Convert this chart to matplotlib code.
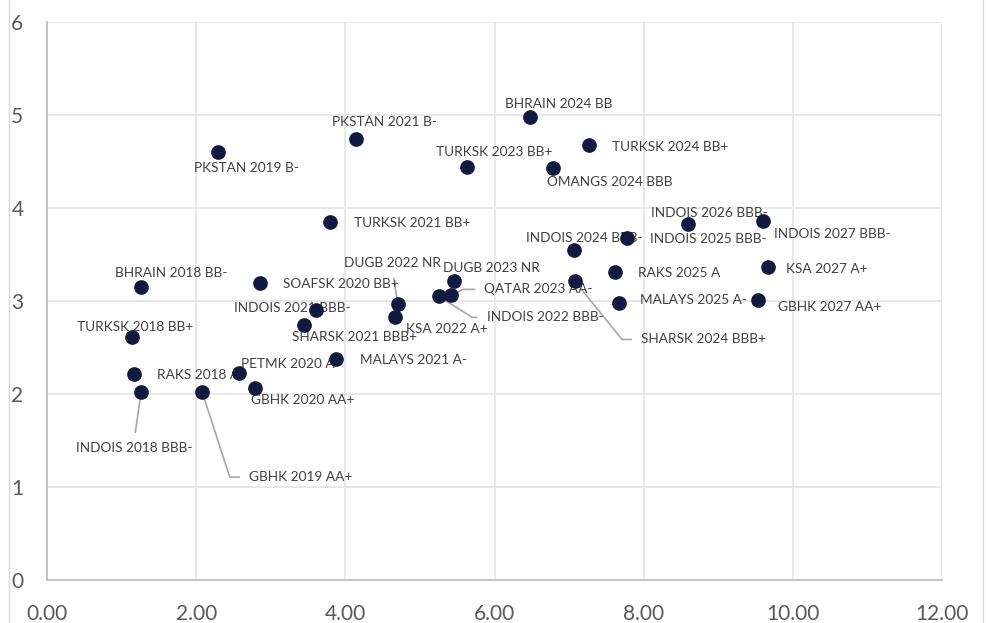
import matplotlib.pyplot as plt
from matplotlib.lines import Line2D

# bond name / rating, duration (x) and yield (y)
names = [
    'PKSTAN 2019 B-', 'PKSTAN 2021 B-', 'BHRAIN 2024 BB', 'TURKSK 2024 BB+',
    'TURKSK 2023 BB+', 'OMANGS 2024 BBB', 'TURKSK 2021 BB+', 'INDOIS 2026 BBB-',
    'INDOIS 2027 BBB-', 'INDOIS 2025 BBB-', 'INDOIS 2024 BBB-', 'RAKS 2025 A',
    'KSA 2027 A+', 'MALAYS 2025 A-', 'GBHK 2027 AA+', 'SHARSK 2024 BBB+',
    'QATAR 2023 AA-', 'DUGB 2023 NR', 'INDOIS 2022 BBB-', 'DUGB 2022 NR',
    'KSA 2022 A+', 'MALAYS 2021 A-', 'INDOIS 2021 BBB-', 'SHARSK 2021 BBB+',
    'SOAFSK 2020 BB+', 'BHRAIN 2018 BB-', 'TURKSK 2018 BB+', 'RAKS 2018 A',
    'INDOIS 2018 BBB-', 'GBHK 2019 AA+', 'PETMK 2020 A', 'GBHK 2020 AA+',
]
x_vals = [
    2.29, 4.14, 6.48, 7.26,
    5.63, 6.78, 3.80, 8.60,
    9.60, 7.77, 7.06, 7.61,
    9.66, 7.67, 9.53, 7.08,
    5.42, 5.45, 5.25, 4.70,
    4.66, 3.87, 3.61, 3.44,
    2.85, 1.26, 1.14, 1.17,
    1.26, 2.08, 2.57, 2.79,
]
y_vals = [
    4.60, 4.74, 4.98, 4.68,
    4.44, 4.43, 3.85, 3.83,
    3.86, 3.68, 3.55, 3.31,
    3.37, 2.98, 3.01, 3.21,
    3.06, 3.22, 3.05, 2.97,
    2.83, 2.38, 2.90, 2.74,
    3.19, 3.15, 2.61, 2.22,
    2.02, 2.02, 2.23, 2.06,
]

# label placement in pixels relative to the dot: (dx, dy up, ha)
label_pos = {
    'PKSTAN 2019 B-': (29, -16, 'center'),
    'PKSTAN 2021 B-': (29, 17, 'center'),
    'BHRAIN 2024 BB': (28, 13, 'center'),
    'TURKSK 2024 BB+': (23, -2, 'left'),
    'TURKSK 2023 BB+': (27, 15, 'center'),
    'OMANGS 2024 BBB': (57, -14, 'center'),
    'TURKSK 2021 BB+': (24, -1, 'left'),
    'INDOIS 2026 BBB-': (21, 11, 'center'),
    'INDOIS 2027 BBB-': (11, -13, 'left'),
    'INDOIS 2025 BBB-': (23, -1, 'left'),
    'INDOIS 2024 BBB-': (11, 12, 'center'),
    'RAKS 2025 A': (23, -1, 'left'),
    'KSA 2027 A+': (18, -2, 'left'),
    'MALAYS 2025 A-': (21, 3, 'left'),
    'GBHK 2027 AA+': (20, -7, 'left'),
    'SHARSK 2024 BBB+': (66, -58, 'left'),
    'QATAR 2023 AA-': (33, 6, 'left'),
    'DUGB 2023 NR': (38, 13, 'center'),
    'INDOIS 2022 BBB-': (48, -21, 'left'),
    'DUGB 2022 NR': (-5, 41, 'center'),
    'KSA 2022 A+': (52, -12, 'center'),
    'MALAYS 2021 A-': (24, -1, 'left'),
    'INDOIS 2021 BBB-': (-24, 2, 'center'),
    'SHARSK 2021 BBB+': (51, -12, 'center'),
    'SOAFSK 2020 BB+': (23, -1, 'left'),
    'BHRAIN 2018 BB-': (30, 14, 'center'),
    'TURKSK 2018 BB+': (3, 10, 'center'),
    'RAKS 2018 A': (23, -1, 'left'),
    'INDOIS 2018 BBB-': (-7, -56, 'center'),
    'GBHK 2019 AA+': (47, -85, 'left'),
    'PETMK 2020 A': (49, 9, 'center'),
    'GBHK 2020 AA+': (48, -12, 'center'),
}

# leader lines: relpos on the label, angle of the slanted part (None = straight)
leaders = {
    'SHARSK 2024 BBB+': ((0, 0.5), -51),
    'QATAR 2023 AA-': ((0, 0.5), 27),
    'INDOIS 2022 BBB-': ((0, 0.5), -32),
    'GBHK 2019 AA+': ((0, 0.5), -72),
    'DUGB 2022 NR': ((0.5, 0), None),
    'INDOIS 2018 BBB-': ((0.5, 1), None),
}

plt.rcParams['font.family'] = ['Lato', 'DejaVu Sans']

fig = plt.figure(figsize=(9.86, 6.23), dpi=100)
ax = fig.add_axes([0.0477, 0.069, 0.9077, 0.8958])

ax.scatter(x_vals, y_vals, s=112, color='#131a40', zorder=5, linewidths=0)

for name, xv, yv in zip(names, x_vals, y_vals):
    dx, dy, ha = label_pos[name]
    arrow = None
    if name in leaders:
        rel, ang = leaders[name]
        if ang is None:
            cs = 'arc3'
        else:
            cs = f'angle,angleA=0,angleB={ang},rad=0'
        arrow = dict(arrowstyle='-', color='#a6a6a6', lw=1.2, relpos=rel,
                     shrinkA=5, shrinkB=0, connectionstyle=cs)
    ax.annotate(name, (xv, yv), xytext=(dx, dy), textcoords='offset pixels',
                ha=ha, va='center', fontsize=9.8, color='#404040',
                arrowprops=arrow, zorder=4)

ax.set_xlim(0, 12)
ax.set_ylim(0, 6)
ax.set_xticks(range(0, 13, 2))
ax.set_xticklabels([f'{v:.2f}' for v in range(0, 13, 2)])
ax.set_yticks(range(0, 7))
ax.grid(True, color='#e6e6e6', lw=1.3)
ax.set_axisbelow(True)
for side in ['top', 'right']:
    ax.spines[side].set_visible(False)
for side in ['left', 'bottom']:
    ax.spines[side].set_color('#bfbfbf')
    ax.spines[side].set_linewidth(1.3)
ax.tick_params(length=0, labelsize=15, colors='#595959')
ax.tick_params(axis='y', pad=17)
ax.tick_params(axis='x', pad=17)

# outer chart border bits visible at the sides
fig.add_artist(Line2D([0.009, 0.009], [0, 1], color='#d9d9d9', lw=1))
fig.add_artist(Line2D([0.997, 0.997], [0, 1], color='#d9d9d9', lw=1))

fig.savefig('out.png', dpi=100)
